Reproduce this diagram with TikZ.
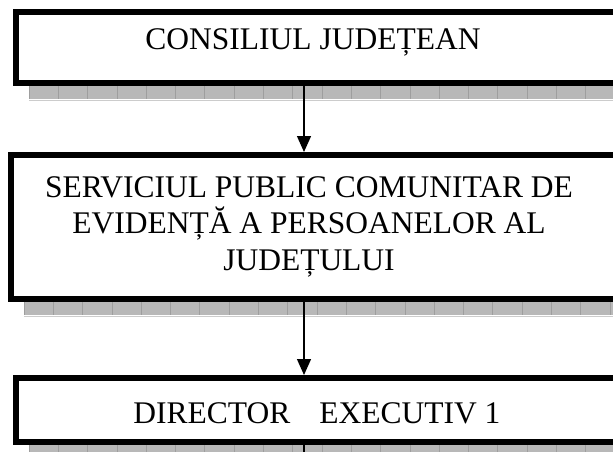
\documentclass[tikz,border=0pt]{standalone}
\usepackage{fontspec}
\setmainfont{Liberation Serif}
\usetikzlibrary{arrows.meta}
\definecolor{shd}{rgb}{0.72,0.72,0.72}
\definecolor{shdline}{rgb}{0.62,0.62,0.62}
\definecolor{shdlight}{rgb}{0.80,0.80,0.80}
\begin{document}
\begin{tikzpicture}[x=1pt,y=-1pt,
  boxshape/.style={draw=black, line width=6pt, fill=white, rectangle, inner sep=0pt, outer sep=3pt, anchor=north west},
  lbl/.style={font=\fontsize{31.5}{36.3}\selectfont, anchor=base, inner sep=0pt},
  conn/.style={line width=1.3pt, -{Triangle[width=14pt,length=16pt]}},
  plainconn/.style={line width=1.3pt},
  tileline/.style={draw=shdline, line width=0.8pt},
  lightline/.style={draw=shdlight, line width=1pt}]
\useasboundingbox (0,0) rectangle (613,452);
\clip (0,0) rectangle (613,452);
\fill[white] (0,0) rectangle (613,452);
% shadows
\fill[shd] (29,86) rectangle (620,99);
\draw[lightline] (29,100.5) -- (620,100.5);
\foreach \i in {0,...,20} \draw[tileline] (29+29.3*\i,86) -- ++(0,13);
\fill[shd] (24,302) rectangle (620,315);
\draw[lightline] (24,316.5) -- (620,316.5);
\foreach \i in {0,...,20} \draw[tileline] (24+29.3*\i,302) -- ++(0,13);
\fill[shd] (29,445) rectangle (620,460);
\foreach \i in {0,...,20} \draw[tileline] (29+29.3*\i,445) -- ++(0,15);
% boxes
\node[boxshape, minimum width=601pt, minimum height=71pt] (b1) at (13,9) {};
\node[boxshape, minimum width=606pt, minimum height=144pt] (b2) at (8,152) {};
\node[boxshape, minimum width=601pt, minimum height=64pt] (b3) at (13,375) {};
% texts
\node[lbl] (t1) at (313,50) {CONSILIUL JUDEȚEAN};
\node[lbl] (t2a) at (309,197) {SERVICIUL PUBLIC COMUNITAR DE};
\node[lbl] (t2b) at (309,233.5) {EVIDENȚĂ A PERSOANELOR AL};
\node[lbl] (t2c) at (309,270) {JUDEȚULUI};
\node[lbl] (t3) at (317,423) {DIRECTOR\hspace{29pt}EXECUTIV 1};
% connectors
\coordinate (ax) at (304,0);
\coordinate (endc) at (304,460);
\draw[conn] (b1.south -| ax) -- (b2.north -| ax);
\draw[conn] (b2.south -| ax) -- (b3.north -| ax);
\draw[plainconn] (b3.south -| ax) -- (endc);
\end{tikzpicture}
\end{document}
